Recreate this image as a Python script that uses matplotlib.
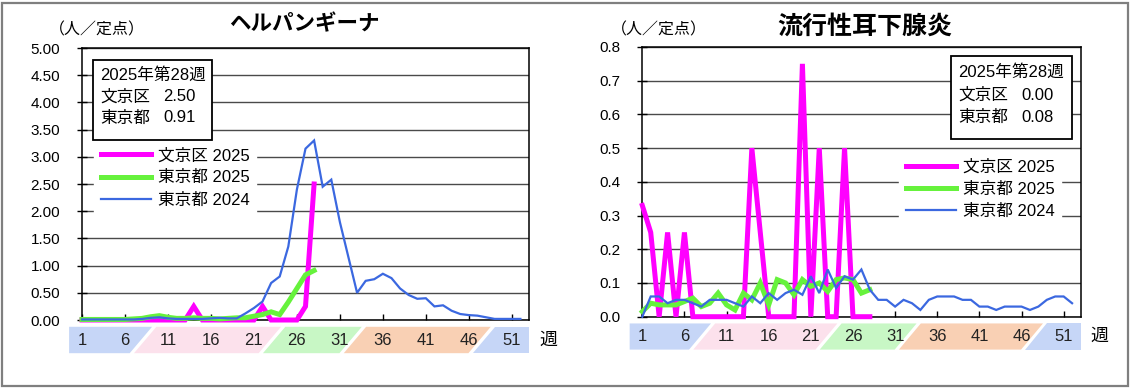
import matplotlib
matplotlib.use('Agg')
import matplotlib.pyplot as plt
import matplotlib.transforms as mtransforms
from matplotlib.patches import Rectangle
import numpy as np

plt.rcParams['font.family'] = ['Liberation Sans', 'Noto Sans CJK JP']

# ---- data ----
weeks_2025 = list(range(1, 29))
weeks_2024 = list(range(1, 53))
week_labels = [1, 6, 11, 16, 21, 26, 31, 36, 41, 46, 51]

# ヘルパンギーナ
herp_bunkyo_2025 = [0, 0, 0, 0, 0, 0, 0, 0, 0, 0, 0, 0, 0, 0.25, 0, 0, 0, 0, 0, 0,
                    0, 0.25, 0, 0, 0, 0, 0.25, 2.50]
herp_tokyo_2025 = [0.01, 0.01, 0.01, 0.01, 0.01, 0.01, 0.02, 0.03, 0.06, 0.08,
                   0.05, 0.03, 0.03, 0.04, 0.03, 0.03, 0.02, 0.03, 0.04, 0.04,
                   0.07, 0.10, 0.15, 0.10, 0.33, 0.58, 0.83, 0.91]
herp_tokyo_2024 = [0.01, 0.01, 0.01, 0.01, 0.01, 0.01, 0.01, 0.02, 0.04, 0.05,
                   0.03, 0.02, 0.02, 0.02, 0.02, 0.03, 0.04, 0.03, 0.03, 0.12,
                   0.22, 0.34, 0.68, 0.80, 1.35, 2.40, 3.15, 3.30, 2.45, 2.58,
                   1.80, 1.15, 0.50, 0.72, 0.75, 0.85, 0.77, 0.58, 0.46, 0.39,
                   0.40, 0.25, 0.27, 0.17, 0.11, 0.09, 0.08, 0.05, 0.02, 0.02,
                   0.02, 0.02]

# 流行性耳下腺炎
mump_bunkyo_2025 = [0.33, 0.25, 0, 0.25, 0, 0.25, 0, 0, 0, 0, 0, 0, 0, 0.5, 0.25,
                    0, 0, 0, 0, 0.75, 0, 0.5, 0, 0, 0.5, 0, 0, 0]
mump_tokyo_2025 = [0.015, 0.04, 0.035, 0.035, 0.035, 0.045, 0.055, 0.03, 0.04, 0.07,
                   0.035, 0.02, 0.07, 0.05, 0.10, 0.035, 0.11, 0.10, 0.065, 0.11,
                   0.09, 0.10, 0.075, 0.11, 0.115, 0.11, 0.07, 0.08]
mump_tokyo_2024 = [0.0, 0.06, 0.06, 0.04, 0.05, 0.05, 0.04, 0.03, 0.05, 0.05,
                   0.05, 0.04, 0.03, 0.06, 0.04, 0.07, 0.05, 0.07, 0.08, 0.065,
                   0.12, 0.07, 0.14, 0.085, 0.12, 0.11, 0.14, 0.08, 0.05, 0.05,
                   0.03, 0.05, 0.04, 0.02, 0.05, 0.06, 0.06, 0.06, 0.05, 0.05,
                   0.03, 0.03, 0.02, 0.03, 0.03, 0.03, 0.02, 0.03, 0.05, 0.06,
                   0.06, 0.04]

series_names = ['文京区 2025', '東京都 2025', '東京都 2024']
series_colors = ['#FF00FF', '#66F23C', '#3B68E0']
series_widths = [3.6, 3.6, 1.6]

# season bands under the x axis: (bottom-left, top-left, bottom-right, top-right) in weeks
bands = [
    ((-0.5, -0.5, 6.55, 9.15), '#C6D6F7'),
    ((7.05, 9.65, 21.55, 24.15), '#FCE1EC'),
    ((22.05, 24.65, 30.95, 33.55), '#C8F7C5'),
    ((31.45, 34.05, 45.95, 48.55), '#F9D0B4'),
    ((46.45, 49.05, 53.0, 53.0), '#C6D6F7'),
]

fig = plt.figure(figsize=(11.34, 3.88), dpi=100)

# outer frame
fig.patches.append(Rectangle((1.5 / 1134, 2.5 / 388), 1126 / 1134, 383 / 388,
                             transform=fig.transFigure, fill=False,
                             edgecolor='#7F7F7F', lw=1.6))


def draw_panel(rect, title, title_xy, title_size, unit_xy, data, ymax, ystep, fmt,
               info, box, text_x, value_x, text_y, leg_anchor):
    ax = fig.add_axes(rect)
    for (vals, weeks), name, c, w in zip(data, series_names, series_colors, series_widths):
        ax.plot(weeks, vals, color=c, lw=w, label=name, solid_joinstyle='miter',
                clip_on=False, zorder=3)
    ax.set_xlim(1, 53)
    ax.set_ylim(0, ymax)
    yt = np.arange(0, ymax + ystep / 2, ystep)
    ax.set_yticks(yt)
    ax.set_yticklabels([fmt.format(v) for v in yt], fontsize=11)
    ax.set_xticks(week_labels)
    ax.tick_params(axis='x', direction='in', length=4, width=1, labelbottom=False)
    ax.tick_params(axis='y', direction='inout', length=7, width=1, pad=12.2)
    ax.yaxis.grid(True, color='#4A4A4A', lw=1.0)
    ax.set_axisbelow(True)
    for s in ax.spines.values():
        s.set_color('black')
        s.set_linewidth(1.1)

    # season bands + week labels
    trans = mtransforms.blended_transform_factory(ax.transData, ax.transAxes)
    y_top, y_bot = -0.025, -0.122
    for (bl, tl, br, tr), col in bands:
        ax.fill([bl, br, tr, tl], [y_bot, y_bot, y_top, y_top], color=col, lw=0,
                transform=trans, clip_on=False)
    for wk in week_labels:
        ax.text(wk, -0.074, str(wk), transform=trans, ha='center', va='center',
                fontsize=12, color='#222222')
    ax.text(1.043, -0.074, '週', transform=ax.transAxes, ha='center', va='center',
            fontsize=13)

    # info box
    ax.add_patch(Rectangle((box[0], box[1]), box[2], box[3], transform=ax.transAxes,
                           facecolor='white', edgecolor='black', lw=1.3, zorder=5))
    fs = 12
    ax.text(text_x, text_y[0], info[0], transform=ax.transAxes, va='center',
            fontsize=fs, zorder=6)
    ax.text(text_x, text_y[1], '文京区', transform=ax.transAxes, va='center',
            fontsize=fs, zorder=6)
    ax.text(value_x, text_y[1], info[1], transform=ax.transAxes, va='center',
            fontsize=fs, zorder=6)
    ax.text(text_x, text_y[2], '東京都', transform=ax.transAxes, va='center',
            fontsize=fs, zorder=6)
    ax.text(value_x, text_y[2], info[2], transform=ax.transAxes, va='center',
            fontsize=fs, zorder=6)

    leg = ax.legend(loc='upper left', bbox_to_anchor=leg_anchor, borderaxespad=0,
                    frameon=True, fancybox=False, facecolor='white', edgecolor='white',
                    framealpha=1, fontsize=12, handlelength=3.0, handletextpad=0.42,
                    labelspacing=0.42, borderpad=0.4)
    leg.set_zorder(4)

    fig.text(title_xy[0] / 1134, 1 - title_xy[1] / 388, title, ha='center', va='center',
             fontsize=title_size, fontweight='bold')
    fig.text(unit_xy[0] / 1134, 1 - unit_xy[1] / 388, '（人／定点）', ha='center',
             va='center', fontsize=11.5)
    return ax


draw_panel([82 / 1134, 1 - 320 / 388, 447 / 1134, 272 / 388], 'ヘルパンギーナ',
           (304, 25), 15.5, (97, 30),
           [(herp_bunkyo_2025, weeks_2025), (herp_tokyo_2025, weeks_2025),
            (herp_tokyo_2024, weeks_2024)],
           5.0, 0.5, '{:.2f}', ['2025年第28週', '2.50', '0.91'],
           (0.0246, 0.662, 0.266, 0.294), 0.040, 0.181, (0.901, 0.820, 0.743),
           (0.027, 0.657))

draw_panel([642.3 / 1134, 1 - 316.7 / 388, 438.2 / 1134, 269.7 / 388], '流行性耳下腺炎',
           (865, 27), 18, (659, 30),
           [(mump_bunkyo_2025, weeks_2025), (mump_tokyo_2025, weeks_2025),
            (mump_tokyo_2024, weeks_2024)],
           0.8, 0.1, '{:.1f}', ['2025年第28週', '0.00', '0.08'],
           (0.705, 0.659, 0.275, 0.309), 0.7216, 0.866, (0.906, 0.822, 0.739),
           (0.586, 0.607))

fig.savefig('out.png', dpi=100)
